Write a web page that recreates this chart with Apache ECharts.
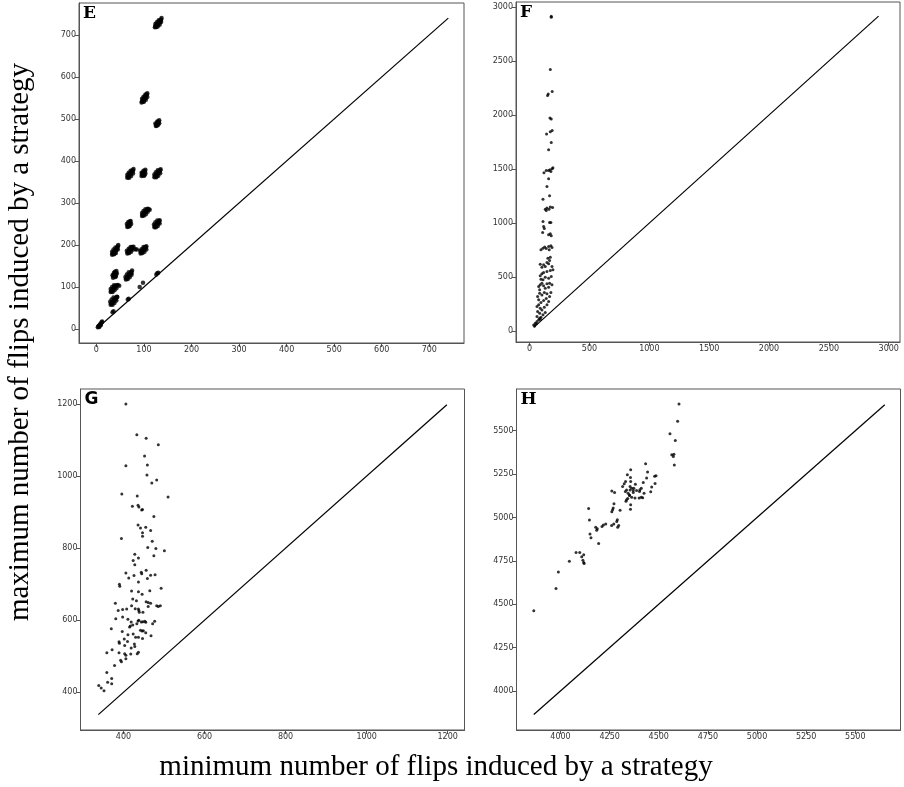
<!DOCTYPE html>
<html>
<head>
<meta charset="utf-8">
<script src="https://cdn.jsdelivr.net/npm/echarts@6/dist/echarts.min.js"></script>
<style>
  html, body { margin: 0; padding: 0; background: #fff; }
  #chart { width: 904px; height: 787px; }
</style>
</head>
<body>
<div id="chart"></div>
<script>
// 面板 E：聚簇点 (min, max)
const ePoints = [
  [123,718],[124,721],[125,720],[126,723],[127,725],[128,724],[129,727],[130,729],[131,728],[132,731],[133,733],[134,732],[135,735],[136,737],[137,740],[126,719],[130,726],[133,730],
  [124,726],[127,730],[131,735],[129,720],[133,724],[136,731],
  [95,539],[96,542],[97,541],[98,545],[99,547],[100,546],[101,550],[102,552],[103,551],[104,555],[105,557],[106,558],[107,561],[99,544],[102,549],
  [96,548],[99,553],[103,558],[100,541],[104,546],[107,552],
  [125,483],[126,486],[127,488],[128,487],[129,490],[130,492],[131,494],[132,497],[127,484],[129,493],
  [124,489],[128,494],[130,486],[132,490],
  [65,360],[66,363],[67,362],[68,366],[69,368],[70,367],[71,370],[72,372],[73,371],[74,374],[75,376],[76,378],[77,377],[78,381],[69,364],[72,369],
  [65,367],[68,372],[72,377],[69,360],[73,364],[77,370],
  [95,364],[96,368],[97,366],[98,370],[99,372],[100,369],[101,374],[102,376],[103,379],[97,372],[100,365],
  [95,372],[99,377],[101,366],[103,370],
  [122,361],[123,364],[124,363],[125,366],[126,368],[127,367],[128,370],[129,372],[130,371],[131,374],[132,376],[133,375],[134,378],[135,380],[126,364],
  [122,368],[125,373],[129,378],[126,361],[130,365],[134,371],
  [96,269],[97,272],[98,271],[99,274],[100,276],[101,275],[102,278],[103,280],[104,279],[105,282],[106,284],[107,283],[108,286],[112,284],[110,285],
  [96,276],[99,281],[103,285],[100,270],[104,273],[108,279],
  [65,243],[66,246],[67,245],[68,249],[69,251],[70,250],[71,254],[72,257],[68,244],[70,256],
  [64,250],[67,255],[70,245],[73,250],
  [122,242],[123,245],[124,244],[125,247],[126,249],[127,248],[128,251],[129,253],[130,252],[131,255],[132,257],[133,259],
  [121,249],[124,254],[128,258],[125,242],[129,245],[133,251],
  [33,177],[34,180],[35,179],[36,182],[37,184],[38,183],[39,186],[40,188],[41,187],[42,190],[43,192],[44,194],[45,197],[46,200],[38,180],
  [33,184],[36,189],[40,194],[37,178],[41,181],[45,189],
  [65,180],[66,183],[67,182],[68,185],[69,187],[70,186],[71,189],[72,191],[73,190],[74,193],[75,195],[76,194],[78,196],[85,189],[82,190],
  [64,186],[68,191],[72,195],[69,181],[73,184],[77,189],
  [93,180],[94,183],[95,182],[96,185],[97,187],[98,186],[99,189],[100,191],[101,190],[102,193],[103,195],[104,194],[105,197],
  [92,186],[95,190],[99,195],[97,181],[101,184],[105,189],
  [35,122],[36,126],[37,125],[38,129],[39,131],[40,128],[41,134],[42,138],[36,130],[40,124],[39,136],
  [34,128],[37,134],[41,126],[43,132],
  [62,118],[63,121],[64,120],[65,124],[66,126],[67,125],[68,128],[69,130],[70,129],[71,132],[72,134],[73,133],[74,136],[75,139],
  [61,124],[64,130],[68,135],[66,119],[70,123],[74,129],
  [30,88],[31,91],[32,90],[33,93],[34,95],[35,94],[36,97],[37,99],[38,98],[39,101],[40,103],[41,102],[43,104],[45,105],[48,103],
  [30,95],[33,100],[37,104],[34,88],[38,92],[42,97],
  [30,58],[31,61],[32,60],[33,63],[34,65],[35,64],[36,67],[37,69],[38,68],[39,71],[40,73],[41,72],[42,75],[43,77],[44,76],
  [29,65],[32,70],[36,75],[34,58],[38,62],[42,68],
  [34,40],[36,42],[66,70],[68,72],[91,100],[98,110],[126,130],[128,133],[130,134],
  [3,4],[4,6],[5,7],[6,8],[7,10],[8,11],[9,12],[10,14],[11,16],[12,18],[6,5],[9,9]
]
const eDiag = [3.5, 740]
const eTicks = [0, 100, 200, 300, 400, 500, 600, 700]

// 面板 F
const fPoints = [
  [181,2904],[181,2913],[173,2422],[189,2219],[150,2182],[156,2194],[170,1972],[181,1963],
  [142,1824],[173,1845],[189,1858],[181,1747],[159,1679],[120,1466],[139,1488],[159,1488],
  [170,1494],[178,1478],[189,1503],[195,1512],[159,1410],[145,1339],[167,1253],[112,1222],
  [131,1129],[145,1139],[162,1129],[173,1148],[192,1145],[139,1117],[112,1015],[167,1006],
  [178,1006],[117,969],[123,950],[109,913],[159,892],[173,901],[181,883],
  [95,753],[112,768],[126,778],[139,765],[159,784],[178,790],[187,774],[164,753],[173,685],
  [103,592],[117,614],[145,636],[167,654],[131,599],[153,676],[159,623],[187,599],[89,620],
  [89,512],[103,531],[117,543],[145,552],[173,562],[195,568],[95,481],[131,500],[159,491],[181,506],[112,475],
  [76,413],[89,429],[103,444],[117,420],[145,438],[167,444],[187,429],[131,398],[159,407],[84,383],
  [67,321],[84,352],[103,336],[123,358],[145,346],[167,321],[178,358],[76,290],[95,265],[117,284],[139,302],[159,274],
  [62,228],[76,244],[89,213],[103,197],[123,222],[145,244],[67,182],[84,166],[112,151],[131,173],[62,136],[95,129],
  [34,58],[48,74],[62,89],[76,105],[89,111],[42,49],[56,68],[84,120]
]
const fDiag = [35, 2915]
const fTicks = [0, 500, 1000, 1500, 2000, 2500, 3000]

// 面板 G
const gPoints = [
  [406,1200],[433,1115],[456,1105],[486,1087],[452,1056],[406,1029],[459,1031],[458,1003],
  [482,989],[470,981],[396,950],[434,945],[510,942],[422,916],[436,919],[438,914],[447,907],
  [445,906],[475,888],[436,864],[442,856],[455,858],[467,849],[447,843],[447,833],[395,827],
  [471,819],[460,802],[480,799],[501,793],[428,783],[475,779],[437,773],[424,766],[428,754],
  [406,731],[413,717],[426,724],[437,706],[444,733],[445,729],[456,739],[467,725],[478,726],
  [459,716],[390,700],[391,694],[420,681],[437,679],[465,682],[493,689],[446,672],[423,659],
  [432,654],[456,651],[461,649],[467,647],[380,647],[387,627],[398,630],[408,631],[420,640],
  [429,632],[437,631],[438,627],[439,622],[448,622],[461,638],[482,640],[486,638],[491,640],
  [381,604],[398,609],[411,603],[419,595],[436,598],[438,600],[444,595],[448,596],[453,597],
  [455,594],[472,590],[477,597],[370,576],[397,569],[417,584],[415,581],[423,587],[433,590],
  [442,572],[446,570],[449,571],[455,565],[468,557],[411,560],[424,562],[430,553],[437,553],
  [447,549],[402,548],[390,536],[389,540],[410,541],[403,530],[419,523],[427,534],[428,527],
  [372,518],[359,510],[389,510],[418,506],[437,511],[434,507],[403,507],[406,503],[393,489],
  [395,485],[406,493],[378,474],[359,455],[361,428],[371,424],[371,438],[339,419],[345,412],[352,404]
]
const gDiag = [338, 1198]
const gTicks = [400, 600, 800, 1000, 1200]

// 面板 H
const hPoints = [
  [3864,4462],[3977,4590],[3989,4685],[4045,4748],[4079,4798],[4098,4798],[4108,4773],[4118,4785],
  [4114,4754],[4118,4740],[4120,4735],[4150,4904],[4155,4883],[4194,4850],[4179,4944],[4187,4935],
  [4184,4927],[4211,4948],[4218,4956],[4230,4963],[4143,5052],[4147,4985],[4260,4954],[4271,4963],
  [4261,5033],[4265,5044],[4268,5054],[4272,5079],[4286,4977],[4289,4987],[4291,4944],[4296,4954],
  [4303,5041],[4261,5152],[4275,5144],[4316,5179],[4324,5194],[4331,5208],[4330,5150],[4336,5158],
  [4340,5246],[4336,5102],[4342,5110],[4333,5094],[4344,5140],[4351,5129],[4357,5275],[4356,5231],
  [4357,5208],[4354,5179],[4362,5169],[4354,5158],[4351,5127],[4362,5117],[4357,5073],[4356,5048],
  [4370,5156],[4373,5169],[4370,5144],[4379,5112],[4381,5192],[4387,5156],[4404,5160],[4411,5169],
  [4402,5150],[4400,5112],[4411,5117],[4421,5202],[4418,5114],[4425,5140],[4433,5310],[4443,5262],
  [4438,5227],[4459,5148],[4464,5175],[4479,5237],[4486,5241],[4481,5196],[4557,5483],[4584,5444],
  [4566,5362],[4574,5352],[4577,5364],[4579,5302],[4596,5554],[4603,5654]
]
const hDiag = [3864, 5650]
const hTicks = [4000, 4250, 4500, 4750, 5000, 5250, 5500]

const frameColor = '#555'
const labelColor = '#333'

const panels = [
  { name: 'E', points: ePoints, diag: eDiag, xt: eTicks, yt: eTicks, size: 4.5,
    grid: { left: 79, top: 3, width: 385, height: 340 }, xr: [-36.6, 773], yr: [-33.3, 776],
    font: 'DejaVu Serif' },
  { name: 'F', points: fPoints, diag: fDiag, xt: fTicks, yt: fTicks, size: 3,
    grid: { left: 516, top: 2, width: 384, height: 340 }, xr: [-113.5, 3094], yr: [-100, 3046],
    font: 'DejaVu Serif' },
  { name: 'G', points: gPoints, diag: gDiag, xt: gTicks, yt: gTicks, size: 3,
    grid: { left: 80.5, top: 389, width: 384, height: 341 }, xr: [294, 1241.5], yr: [295.3, 1241.7],
    font: 'DejaVu Sans' },
  { name: 'H', points: hPoints, diag: hDiag, xt: hTicks, yt: hTicks, size: 3,
    grid: { left: 516.5, top: 389, width: 384, height: 341 }, xr: [3776, 5730], yr: [3774.7, 5740.6],
    font: 'DejaVu Serif' }
]

function axis(range, ticks, idx) {
  return {
    type: 'value',
    gridIndex: idx,
    min: range[0],
    max: range[1],
    axisLine: { show: true, onZero: false, lineStyle: { color: frameColor, width: 1 } },
    axisTick: { show: true, length: 4, customValues: ticks, lineStyle: { color: frameColor } },
    axisLabel: {
      customValues: ticks,
      formatter: v => String(v),
      fontSize: 8,
      color: labelColor,
      margin: 3,
      fontFamily: 'DejaVu Sans'
    },
    splitLine: { show: false }
  }
}

const option = {
  animation: false,
  backgroundColor: '#fff',
  grid: panels.map(p => Object.assign({ show: true, borderColor: frameColor, borderWidth: 1 }, p.grid)),
  xAxis: panels.map((p, i) => axis(p.xr, p.xt, i)),
  yAxis: panels.map((p, i) => axis(p.yr, p.yt, i)),
  series: [],
  graphic: []
}

panels.forEach((p, i) => {
  option.series.push({
    type: 'line',
    xAxisIndex: i,
    yAxisIndex: i,
    data: [[p.diag[0], p.diag[0]], [p.diag[1], p.diag[1]]],
    showSymbol: false,
    lineStyle: { color: '#000', width: 1.2 },
    z: 2
  })
  option.series.push({
    type: 'scatter',
    xAxisIndex: i,
    yAxisIndex: i,
    data: p.points,
    symbol: 'circle',
    symbolSize: p.size,
    itemStyle: { color: '#000' },
    z: 3
  })
  option.graphic.push({
    type: 'text',
    left: p.grid.left + 4,
    top: p.grid.top + 2,
    style: { text: p.name, font: 'bold 17px "' + p.font + '"', fill: '#000' }
  })
})

// 轴标题
option.graphic.push({
  type: 'text',
  x: 436,
  y: 767,
  style: {
    text: 'minimum number of flips induced by a strategy',
    font: '29px "Liberation Serif"', fill: '#000', align: 'center', verticalAlign: 'middle'
  }
})
option.graphic.push({
  type: 'text',
  x: 20,
  y: 342,
  rotation: Math.PI / 2,
  style: {
    text: 'maximum number of flips induced by a strategy',
    font: '29px "Liberation Serif"', fill: '#000', align: 'center', verticalAlign: 'middle'
  }
})

const chart = echarts.init(document.getElementById('chart'))
chart.setOption(option)
</script>
</body>
</html>
